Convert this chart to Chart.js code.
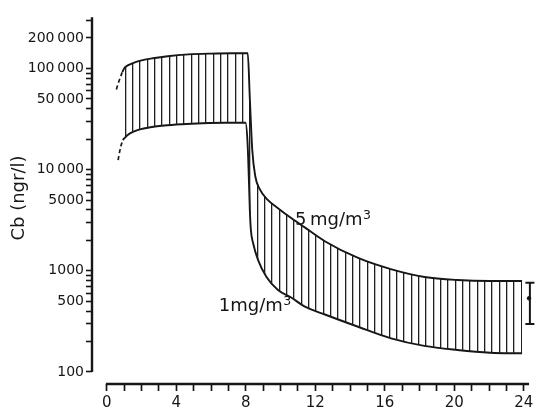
<!DOCTYPE html>
<html>
<head>
<meta charset="utf-8">
<title>Cb (ngr/l)</title>
<script src="https://cdn.jsdelivr.net/npm/chart.js@4/dist/chart.umd.min.js"></script>
<style>
  html, body { margin: 0; padding: 0; background: #fff; }
  #wrap { width: 539px; height: 413px; position: relative; }
</style>
</head>
<body>
<div id="wrap"><canvas id="chart"></canvas></div>
<script>
// Blood concentration Cb (ngr/l) against time (h): band between 1 and 5 mg/m3 exposure.

// 5 mg/m3 curve (upper edge of the band)
const upperHours  = [0.89, 1.03, 1.2, 1.5, 2.0, 2.65, 3.5, 4.7, 6.0, 7.2, 8.11, 8.23, 8.37, 8.54, 8.8, 9.26, 9.83, 10.63, 11.37, 12.57, 14.46, 16.34, 18.29, 20.17, 22.06, 23.9];
const upperValues = [92000, 102000, 107000, 113000, 120000, 126000, 132000, 137500, 140000, 141000, 141000, 50000, 15600, 8650, 6400, 5010, 4180, 3300, 2700, 1950, 1340, 1040, 869, 811, 793, 793];

// 1 mg/m3 curve (lower edge of the band)
const lowerHours  = [0.91, 1.03, 1.2, 1.5, 1.9, 2.5, 3.3, 4.3, 5.5, 6.8, 7.98, 8.1, 8.17, 8.23, 8.29, 8.42, 8.7, 9.18, 9.85, 10.61, 11.37, 12.55, 14.46, 16.36, 18.27, 20.17, 22.07, 23.9];
const lowerValues = [19600, 20600, 22000, 23600, 25000, 26200, 27300, 28100, 28700, 29000, 29000, 18200, 8510, 3990, 2530, 1870, 1280, 875, 646, 545, 445, 370, 280, 215, 181, 165, 155, 153];

// dashed lead-in of each curve
const upperLeadHours  = [0.55, 0.65, 0.77, 0.89];
const upperLeadValues = [62000, 71000, 81000, 92000];
const lowerLeadHours  = [0.65, 0.72, 0.81, 0.91];
const lowerLeadValues = [12400, 14600, 17100, 19600];

// measured value with its range
const measuredHour  = 24.35;
const measuredMean  = 535;
const measuredRange = [298, 762];

// axes
const hourTicks       = Array.from({ length: 25 }, (_, i) => i);
const hourLabels      = [0, 4, 8, 12, 16, 20, 24];
const decades         = [100, 1000, 10000, 100000];
const concTicks       = decades.flatMap(d => [1,2,3,4,5,6,7,8,9].map(m => m * d)).filter(v => v <= 300000);
const concLabelValues = [100, 500, 1000, 5000, 10000, 50000, 100000, 200000];
const concLabelTexts  = ['100', '500', '1000', '5000', '10\u2009000', '50\u2009000', '100\u2009000', '200\u2009000'];

// curve captions
const curveNotes = [
  { text: '5\u2009mg/m', sup: '3', hour: 10.83, value: 2836 },
  { text: '1mg/m',       sup: '3', hour: 6.44,  value: 401 }
];

const ink = '#161616';
Chart.defaults.font.family = "'DejaVu Sans', sans-serif";
Chart.defaults.color = ink;

const pts = (xs, ys) => xs.map((x, i) => ({ x, y: ys[i] }));

// vertical hatching used to fill the band
function hatchPattern() {
  const c = document.createElement('canvas');
  c.width = 22; c.height = 4;
  const g = c.getContext('2d');
  g.fillStyle = '#1e1e1e';
  [0, 7, 15].forEach(px => g.fillRect(px, 0, 1.3, 4));
  return g.createPattern(c, 'repeat');
}

const axisAndNotes = {
  id: 'axisAndNotes',
  afterDraw(chart) {
    const { ctx, chartArea, scales: { x, y } } = chart;
    ctx.save();
    ctx.strokeStyle = ink;
    ctx.lineWidth = 2.4;
    ctx.beginPath();
    ctx.moveTo(chartArea.left, y.getPixelForValue(320000));
    ctx.lineTo(chartArea.left, y.getPixelForValue(100));
    ctx.moveTo(x.getPixelForValue(0) - 1, chartArea.bottom);
    ctx.lineTo(x.getPixelForValue(24.3), chartArea.bottom);
    ctx.stroke();

    ctx.fillStyle = ink;
    ctx.textBaseline = 'alphabetic';
    ctx.textAlign = 'left';
    curveNotes.forEach(n => {
      const px = x.getPixelForValue(n.hour);
      const py = y.getPixelForValue(n.value);
      ctx.font = "18px 'DejaVu Sans'";
      ctx.fillText(n.text, px, py);
      const w = ctx.measureText(n.text).width;
      ctx.font = "12.5px 'DejaVu Sans'";
      ctx.fillText(n.sup, px + w + 0.5, py - 6);
    });
    ctx.restore();
  }
};

const curveStyle = {
  borderColor: ink,
  borderWidth: 1.9,
  pointRadius: 0,
  cubicInterpolationMode: 'monotone'
};

new Chart(document.getElementById('chart'), {
  type: 'line',
  data: {
    datasets: [
      { ...curveStyle, label: '5 mg/m3', data: pts(upperHours, upperValues), fill: '+1', backgroundColor: hatchPattern() },
      { ...curveStyle, label: '1 mg/m3', data: pts(lowerHours, lowerValues), fill: false },
      { ...curveStyle, data: pts(upperLeadHours, upperLeadValues), fill: false, borderDash: [4, 3], borderWidth: 1.7 },
      { ...curveStyle, data: pts(lowerLeadHours, lowerLeadValues), fill: false, borderDash: [4, 3], borderWidth: 1.7 },
      {
        data: measuredRange.map(v => ({ x: measuredHour, y: v })),
        borderColor: ink, borderWidth: 2, fill: false, clip: false,
        pointStyle: 'line', pointRadius: 4.5, pointBorderWidth: 2, pointBorderColor: ink
      },
      {
        data: [{ x: measuredHour - 0.05, y: measuredMean }],
        showLine: false, clip: false,
        pointStyle: 'circle', pointRadius: 1.8, pointBackgroundColor: ink, pointBorderColor: ink
      }
    ]
  },
  options: {
    responsive: true,
    maintainAspectRatio: false,
    devicePixelRatio: 1,
    animation: false,
    layout: { padding: { top: 12, right: -1.5, left: 0, bottom: 0 } },
    plugins: { legend: { display: false }, tooltip: { enabled: false } },
    scales: {
      x: {
        type: 'linear',
        min: -0.855,
        max: 24.5,
        bounds: 'data',
        border: { display: false },
        grid: { drawOnChartArea: false, drawTicks: true, tickLength: 7, tickColor: ink, tickWidth: 1.7 },
        ticks: {
          autoSkip: false, maxRotation: 0, padding: 3,
          font: { size: 15 }, color: ink,
          callback: v => hourLabels.includes(v) ? String(v) : ''
        },
        afterBuildTicks: s => { s.ticks = hourTicks.map(v => ({ value: v })); },
        afterFit: s => { s.height = 29; s.paddingLeft = 0; s.paddingRight = 0; }
      },
      y: {
        type: 'logarithmic',
        min: 76.1,
        max: 360800,
        bounds: 'data',
        border: { display: false },
        grid: { drawOnChartArea: false, drawTicks: true, tickLength: 6, tickColor: ink, tickWidth: 1.6 },
        ticks: {
          autoSkip: false, padding: 2,
          font: { size: 14 }, color: ink,
          callback: v => {
            const i = concLabelValues.indexOf(v);
            return i >= 0 ? concLabelTexts[i] : '';
          }
        },
        title: { display: true, text: 'Cb (ngr/l)', font: { size: 18 }, color: ink, padding: { top: 9, bottom: 0 } },
        afterBuildTicks: s => { s.ticks = concTicks.map(v => ({ value: v })); },
        afterFit: s => { s.width = 92; s.paddingTop = 0; s.paddingBottom = 0; }
      }
    }
  },
  plugins: [axisAndNotes]
});
</script>
</body>
</html>
